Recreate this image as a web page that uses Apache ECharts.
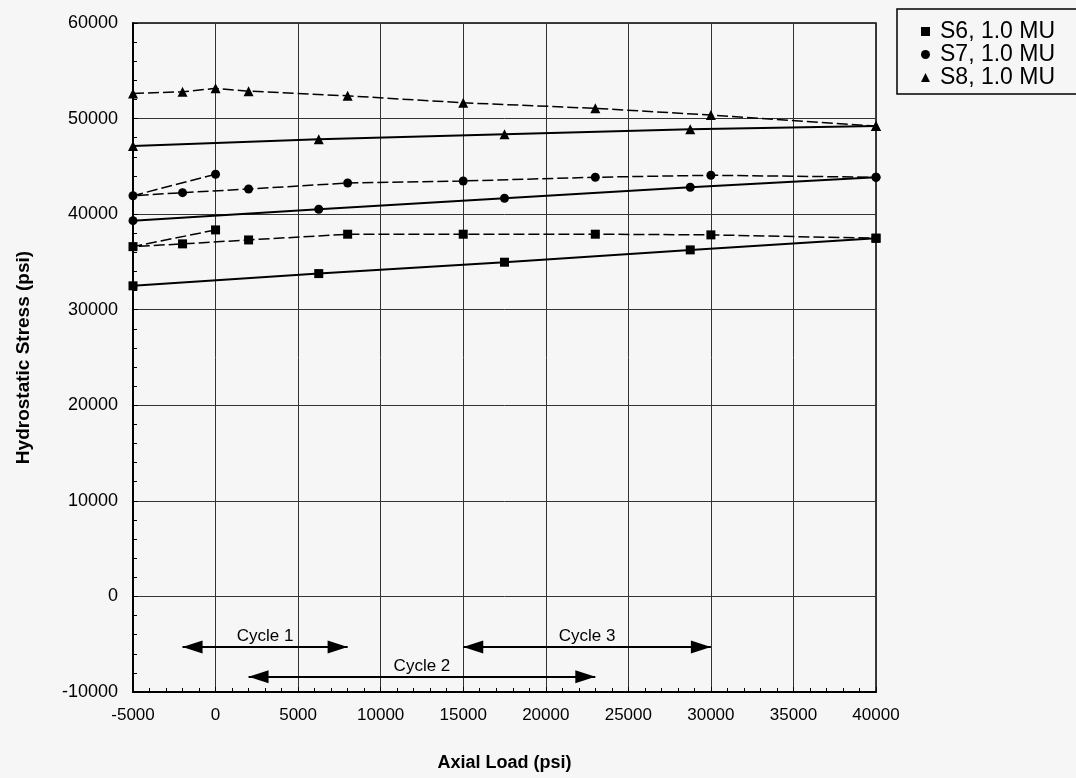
<!DOCTYPE html>
<html>
<head>
<meta charset="utf-8">
<title>Hydrostatic Stress vs Axial Load</title>
<script src="https://cdn.jsdelivr.net/npm/echarts@6/dist/echarts.min.js"></script>
<style>
  html, body { margin: 0; padding: 0; background: #f6f6f6; }
  #main { width: 1076px; height: 778px; }
</style>
</head>
<body>
<div id="main"></div>
<script>
  // loading runs (dashed). S6/S7 start with the spur at 0 psi
  var upX = [0, -5000, -2000, 2000, 8000, 15000, 23000, 30000, 40000];
  var upX_S8 = [-5000, -2000, 0, 2000, 8000, 15000, 23000, 30000, 40000];
  var s6Up = [38350, 36600, 36890, 37300, 37900, 37900, 37900, 37830, 37480];
  var s7Up = [44170, 41930, 42250, 42630, 43260, 43470, 43860, 44070, 43860];
  var s8Up = [52630, 52800, 53160, 52870, 52380, 51650, 51070, 50370, 49220];

  // unloading runs (solid)
  var downX = [-5000, 6250, 17500, 28750, 40000];
  var s6Down = [32500, 33780, 34970, 36260, 37480];
  var s7Down = [39320, 40510, 41660, 42810, 43860];
  var s8Down = [47130, 47830, 48350, 48870, 49220];

  // cycle arrows
  var cycleNames = ['Cycle 1', 'Cycle 2', 'Cycle 3'];
  var cycleFrom = [-2000, 2000, 15000];
  var cycleTo = [8000, 23000, 30000];
  var cycleY = [-5300, -8400, -5300];

  var names = ['S6, 1.0 MU', 'S7, 1.0 MU', 'S8, 1.0 MU'];
  var font = '"Liberation Sans", Arial, Helvetica, sans-serif';

  function pairs(xs, ys) {
    return xs.map(function(x, i){ return [x, ys[i]]; });
  }

  function run(name, symbol, size, xs, ys, dashed) {
    return {
      name: name
      ,type: 'line'
      ,symbol: symbol
      ,symbolSize: size
      ,data: pairs(xs, ys)
      ,itemStyle: { color: '#000' }
      ,lineStyle: { color: '#000', width: dashed ? 1.5 : 2, type: dashed ? [11, 4] : 'solid' }
      ,z: 3
    };
  }

  var chart = echarts.init(document.getElementById('main'));

  chart.setOption({
    animation: false
    ,backgroundColor: '#f6f6f6'
    ,textStyle: { fontFamily: font }
    ,grid: {
      left: 133, right: 200, top: 23, bottom: 86
      ,show: true, borderColor: '#000', borderWidth: 1.5
    }
    ,legend: {
      orient: 'vertical'
      ,left: 897
      ,top: 9
      ,data: [
        { name: names[0], icon: 'rect' }
        ,{ name: names[1], icon: 'circle' }
        ,{ name: names[2], icon: 'triangle' }
      ]
      ,itemWidth: 9
      ,itemHeight: 9
      ,itemGap: 0
      ,padding: [11, 40, 5, 24]
      ,borderColor: '#000'
      ,borderWidth: 1.5
      ,selectedMode: false
      ,textStyle: { fontSize: 23, lineHeight: 21, color: '#000', fontFamily: font, padding: [0, 0, 0, 5] }
    }
    ,xAxis: {
      type: 'value'
      ,min: -5000, max: 40000, interval: 5000
      ,name: 'Axial Load (psi)'
      ,nameLocation: 'middle'
      ,nameGap: 62
      ,nameTextStyle: { fontSize: 18, fontWeight: 'bold', color: '#000', fontFamily: font }
      ,axisLine: { onZero: false, lineStyle: { color: '#000', width: 2 } }
      ,axisTick: { inside: true, length: 5, lineStyle: { color: '#000' } }
      ,minorTick: { show: true, splitNumber: 5, length: 4, lineStyle: { color: '#000' } }
      ,axisLabel: { fontSize: 17, color: '#000', margin: 15, formatter: function(v){ return String(v); } }
      ,splitLine: { lineStyle: { color: '#333', width: 1 } }
    }
    ,yAxis: {
      type: 'value'
      ,min: -10000, max: 60000, interval: 10000
      ,name: 'Hydrostatic Stress (psi)'
      ,nameLocation: 'middle'
      ,nameGap: 100
      ,nameTextStyle: { fontSize: 19, fontWeight: 'bold', color: '#000', fontFamily: font }
      ,axisLine: { onZero: false, lineStyle: { color: '#000', width: 2 } }
      ,axisTick: { inside: true, length: 5, lineStyle: { color: '#000' } }
      ,minorTick: { show: true, splitNumber: 5, length: 4, lineStyle: { color: '#000' } }
      ,axisLabel: { fontSize: 18, color: '#000', margin: 15, formatter: function(v){ return String(v); } }
      ,splitLine: { lineStyle: { color: '#333', width: 1 } }
    }
    ,series: [
      run(names[0], 'rect', 9, upX, s6Up, true)
      ,run(names[0], 'rect', 9, downX, s6Down, false)
      ,run(names[1], 'circle', 9, upX, s7Up, true)
      ,run(names[1], 'circle', 9, downX, s7Down, false)
      ,run(names[2], 'triangle', 10, upX_S8, s8Up, true)
      ,run(names[2], 'triangle', 10, downX, s8Down, false)
      ,{
        name: 'cycles'
        ,type: 'line'
        ,data: []
        ,markLine: {
          silent: true
          ,symbol: ['triangle', 'triangle']
          ,symbolSize: [13, 20]
          ,symbolOffset: [[0, 10], [0, 10]]
          ,lineStyle: { color: '#000', width: 2, type: 'solid' }
          ,label: { show: true, position: 'middle', formatter: '{b}', color: '#000', fontSize: 17, distance: 2, fontFamily: font }
          ,data: cycleNames.map(function(n, i){
            return [
              { name: n, coord: [cycleFrom[i], cycleY[i]] }
              ,{ coord: [cycleTo[i], cycleY[i]] }
            ];
          })
        }
      }
    ]
  });
</script>
</body>
</html>
